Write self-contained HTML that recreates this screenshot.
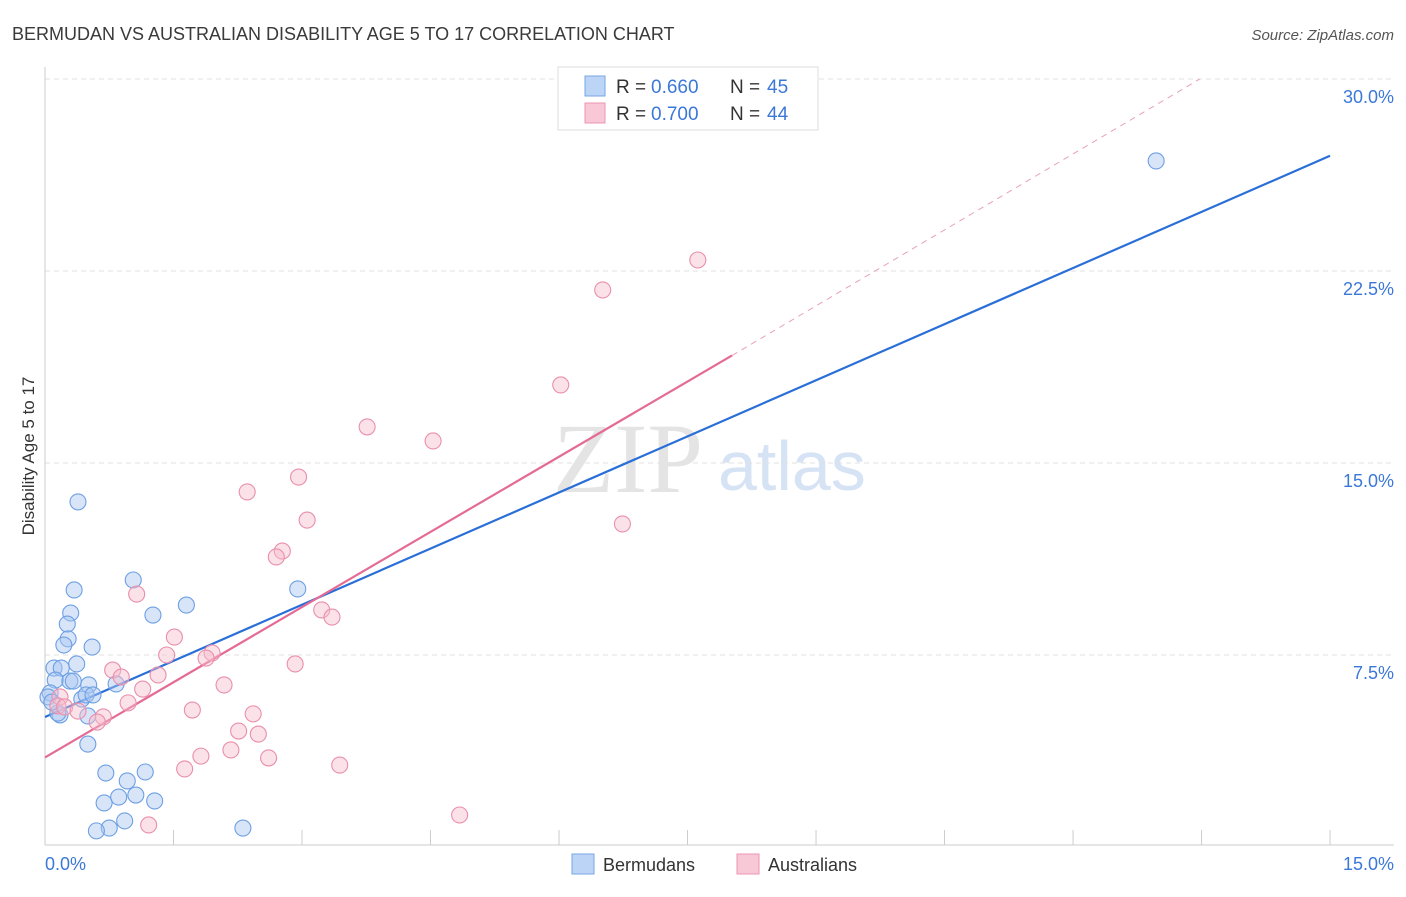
<!DOCTYPE html>
<html><head><meta charset="utf-8"><style>
body{margin:0;background:#fff;font-family:"Liberation Sans",sans-serif}
</style></head><body>
<svg id="chart" width="1406" height="892" xmlns="http://www.w3.org/2000/svg" font-family="Liberation Sans, sans-serif">
<text x="12" y="40" font-size="18" fill="#3a3a3a">BERMUDAN VS AUSTRALIAN DISABILITY AGE 5 TO 17 CORRELATION CHART</text>
<text x="1394" y="40" font-size="15" fill="#555" text-anchor="end" font-style="italic">Source: ZipAtlas.com</text>
<text x="553" y="492" font-size="100" fill="#e4e4e4" font-family="Liberation Serif, serif">ZIP</text>
<text x="718" y="490" font-size="70" fill="#d6e3f5">atlas</text>
<g id="grid"></g><g id="axes"></g><g id="lines"></g><g id="points"></g>
<text transform="translate(34,456) rotate(-90)" font-size="17" fill="#333" text-anchor="middle">Disability Age 5 to 17</text>
<text x="45" y="870" font-size="18" fill="#3b78d8">0.0%</text>
<text x="1394" y="870" font-size="18" fill="#3b78d8" text-anchor="end">15.0%</text>
<g>
<rect x="558" y="67" width="260" height="63" fill="#fff" stroke="#ddd"/>
<rect x="585" y="76" width="20" height="20" fill="#bcd4f5" stroke="#7aa6e6"/>
<rect x="585" y="103" width="20" height="20" fill="#f9c8d7" stroke="#ec94b0"/>
<text x="616" y="93" font-size="19" fill="#333">R =</text><text x="651" y="93" font-size="19" fill="#3b78d8">0.660</text>
<text x="730" y="93" font-size="19" fill="#333">N =</text><text x="767" y="93" font-size="19" fill="#3b78d8">45</text>
<text x="616" y="120" font-size="19" fill="#333">R =</text><text x="651" y="120" font-size="19" fill="#3b78d8">0.700</text>
<text x="730" y="120" font-size="19" fill="#333">N =</text><text x="767" y="120" font-size="19" fill="#3b78d8">44</text>
</g>
<g><rect x="572" y="854" width="22" height="20" fill="#bcd4f5" stroke="#7aa6e6"/><text x="603" y="871" font-size="18" fill="#333">Bermudans</text></g>
<g><rect x="737" y="854" width="22" height="20" fill="#f9c8d7" stroke="#ec94b0"/><text x="768" y="871" font-size="18" fill="#333">Australians</text></g>
</svg>
<script>
const yTicks=[7.5,15,22.5,30];
const yTickLabels=["7.5%","15.0%","22.5%","30.0%"];
const xTicks=[0,1.5,3,4.5,6,7.5,9,10.5,12,13.5,15];
const bermX=[12.97,0.385,1.03,0.34,2.95,1.65,1.26,0.30,0.26,0.27,0.22,0.55,0.37,0.105,0.19,0.12,0.29,0.33,0.51,0.83,0.06,0.035,0.43,0.48,0.56,0.175,0.15,0.50,0.50,0.71,0.96,1.17,1.06,0.86,0.69,1.28,0.93,0.75,0.60,2.31,0.08];
const bermY=[26.8,13.48,10.43,10.04,10.08,9.45,9.06,9.14,8.71,8.13,7.89,7.81,7.15,6.99,6.99,6.52,6.48,6.48,6.33,6.37,6.02,5.86,5.78,5.94,5.94,5.16,5.23,5.12,4.02,2.89,2.58,2.93,2.03,1.95,1.72,1.80,1.02,0.74,0.63,0.74,5.66];
const ausX=[7.62,6.51,6.02,3.76,4.53,2.96,2.36,3.06,6.74,2.77,2.70,1.07,3.23,3.35,1.51,1.42,1.95,1.88,2.92,0.79,1.32,0.89,2.09,1.14,0.175,0.97,0.15,0.23,1.72,0.385,2.43,0.68,0.61,2.26,2.49,2.17,1.82,2.61,1.63,3.44,1.21,4.84];
const ausY=[22.93,21.76,18.05,16.41,15.86,14.45,13.87,12.77,12.62,11.56,11.33,9.88,9.26,8.98,8.20,7.50,7.58,7.38,7.15,6.91,6.72,6.64,6.33,6.17,5.86,5.63,5.51,5.47,5.35,5.31,5.20,5.08,4.88,4.53,4.41,3.79,3.55,3.48,3.05,3.20,0.86,1.25];
const bermLine=[[0,5.08],[15,27.0]];
const ausLine=[[0,3.5],[8.02,19.2]];
const ausDash=[[8.02,19.2],[13.48,30]];
const NS="http://www.w3.org/2000/svg";
const sx=v=>45+v*85.67, sy=v=>847-v*25.6;
function mk(t,a,p){const e=document.createElementNS(NS,t);for(const k in a)e.setAttribute(k,a[k]);document.getElementById(p).appendChild(e);return e;}
yTicks.forEach((t,i)=>{
 const g=mk('line',{x1:45,x2:1394,y1:sy(t),y2:sy(t),stroke:'#e2e2e2','stroke-dasharray':'5,4'},'grid');
 
 
 const l=mk('text',{x:1394,y:sy(t)+24,'font-size':18,fill:'#3b78d8','text-anchor':'end'},'grid');l.textContent=yTickLabels[i];
 
 
});
let a=mk('line',{x1:45,x2:45,y1:67,y2:845,stroke:'#ccc'},'axes');


a=mk('line',{x1:45,x2:1394,y1:845,y2:845,stroke:'#ccc'},'axes');


xTicks.forEach(t=>{const e=mk('line',{x1:sx(t),x2:sx(t),y1:830,y2:845,stroke:'#ccc'},'axes');
 
 });
function pts(X,Y,f,s,n){X.forEach((x,i)=>{const c=mk('circle',{cx:sx(x),cy:sy(Y[i]),r:8,fill:f,'fill-opacity':0.45,stroke:s,'stroke-width':1.1},'points');
 
 });}
pts(bermX,bermY,'#a9c6f2','#6d9fe3','bermudan-point');
pts(ausX,ausY,'#f7bccd','#e98fab','australian-point');
function ln(L,c,w,d,n){const e=mk('line',{x1:sx(L[0][0]),y1:sy(L[0][1]),x2:sx(L[1][0]),y2:sy(L[1][1]),stroke:c,'stroke-width':w},'lines');if(d)e.setAttribute('stroke-dasharray',d);
 
 }
ln(ausDash,'#e8a1b8',1,'6,5','australian-trend-extension');
ln(bermLine,'#2a6fd8',2.2,null,'bermudan-trend-line');
ln(ausLine,'#e46b95',2.2,null,'australian-trend-line');
</script>
</body></html>
